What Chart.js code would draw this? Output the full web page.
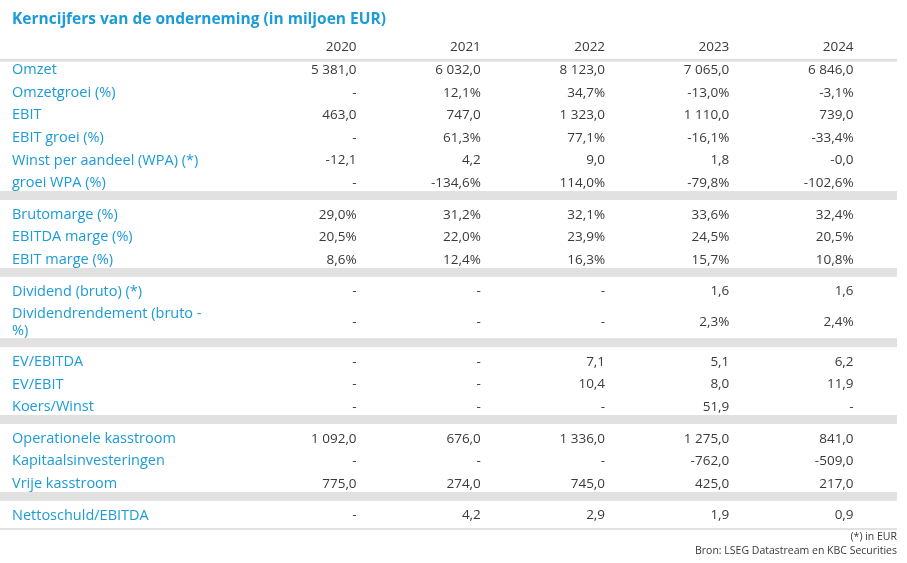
<!DOCTYPE html>
<html>
<head>
<meta charset="utf-8">
<script src="https://cdn.jsdelivr.net/npm/chart.js@4"></script>
<style>
  body { margin: 0; background: #fff; }
  #wrap { width: 907px; height: 563px; }
</style>
</head>
<body>
<div id="wrap"><canvas id="myTable"></canvas></div>
<script>
// table data
var title = 'Kerncijfers van de onderneming (in miljoen EUR)';
var years = ['2020', '2021', '2022', '2023', '2024'];
var labels = [
  ['Omzet', 'Omzetgroei (%)', 'EBIT', 'EBIT groei (%)', 'Winst per aandeel (WPA) (*)', 'groei WPA (%)'],
  ['Brutomarge (%)', 'EBITDA marge (%)', 'EBIT marge (%)'],
  ['Dividend (bruto) (*)', 'Dividendrendement (bruto -\n%)'],
  ['EV/EBITDA', 'EV/EBIT', 'Koers/Winst'],
  ['Operationele kasstroom', 'Kapitaalsinvesteringen', 'Vrije kasstroom'],
  ['Nettoschuld/EBITDA']
];
var values = [
  [
    ['5 381,0', '6 032,0', '8 123,0', '7 065,0', '6 846,0'],
    ['-', '12,1%', '34,7%', '-13,0%', '-3,1%'],
    ['463,0', '747,0', '1 323,0', '1 110,0', '739,0'],
    ['-', '61,3%', '77,1%', '-16,1%', '-33,4%'],
    ['-12,1', '4,2', '9,0', '1,8', '-0,0'],
    ['-', '-134,6%', '114,0%', '-79,8%', '-102,6%']
  ],
  [
    ['29,0%', '31,2%', '32,1%', '33,6%', '32,4%'],
    ['20,5%', '22,0%', '23,9%', '24,5%', '20,5%'],
    ['8,6%', '12,4%', '16,3%', '15,7%', '10,8%']
  ],
  [
    ['-', '-', '-', '1,6', '1,6'],
    ['-', '-', '-', '2,3%', '2,4%']
  ],
  [
    ['-', '-', '7,1', '5,1', '6,2'],
    ['-', '-', '10,4', '8,0', '11,9'],
    ['-', '-', '-', '51,9', '-']
  ],
  [
    ['1 092,0', '676,0', '1 336,0', '1 275,0', '841,0'],
    ['-', '-', '-', '-762,0', '-509,0'],
    ['775,0', '274,0', '745,0', '425,0', '217,0']
  ],
  [
    ['-', '4,2', '2,9', '1,9', '0,9']
  ]
];
var notes = ['(*) in EUR', 'Bron: LSEG Datastream en KBC Securities'];

var BLUE = '#1b9bd7';
var DARK = '#3a3a3a';
var GREY = '#e1e1e1';
var FONT = '"Open Sans", sans-serif';

// row slots: each row 1 slot, two-line rows taller, gap between groups 0.4
var rows = [];
var seps = [];
var slot = 1;
labels.forEach(function (grp, g) {
  grp.forEach(function (lab, i) {
    var tall = lab.indexOf('\n') >= 0;
    if (tall) slot += 0.35;
    rows.push({ label: lab, vals: values[g][i], pos: slot });
    slot += tall ? 1.36 : 1;
  });
  if (g < labels.length - 1) {
    seps.push(slot - 0.47);
    slot += 0.4;
  }
});
var lastPos = slot - 1;

var tablePlugin = {
  id: 'tablePlugin',
  afterDraw: function (chart) {
    var ctx = chart.ctx, xs = chart.scales.x, ys = chart.scales.y;
    ctx.save();
    // title
    ctx.fillStyle = BLUE;
    ctx.font = 'bold 15.5px ' + FONT;
    ctx.textAlign = 'left';
    ctx.textBaseline = 'middle';
    ctx.fillText(title, 12, ys.getPixelForValue(-1.25));
    // header
    ctx.font = '13.5px ' + FONT;
    ctx.fillStyle = DARK;
    ctx.textAlign = 'right';
    years.forEach(function (y, i) {
      ctx.fillText(y, xs.getPixelForValue(i + 1), ys.getPixelForValue(0));
    });
    ctx.fillStyle = GREY;
    ctx.fillRect(0, ys.getPixelForValue(0.5), 897, 3);
    // separators
    seps.forEach(function (s) {
      ctx.fillRect(0, ys.getPixelForValue(s) - 4, 897, 9);
    });
    ctx.fillRect(0, ys.getPixelForValue(lastPos + 0.55), 897, 2);
    // rows
    rows.forEach(function (r) {
      var yp = ys.getPixelForValue(r.pos);
      ctx.font = '14.5px ' + FONT;
      ctx.fillStyle = BLUE;
      ctx.textAlign = 'left';
      var parts = r.label.split('\n');
      if (parts.length > 1) {
        ctx.fillText(parts[0], 12, yp - 8);
        ctx.fillText(parts[1], 12, yp + 9);
      } else {
        ctx.fillText(r.label, 12, yp);
      }
      ctx.font = '13.5px ' + FONT;
      ctx.fillStyle = DARK;
      ctx.textAlign = 'right';
      r.vals.forEach(function (v, i) {
        ctx.fillText(v, xs.getPixelForValue(i + 1), yp);
      });
    });
    // notes
    ctx.font = '10.5px ' + FONT;
    ctx.fillStyle = DARK;
    ctx.fillText(notes[0], 897, ys.getPixelForValue(lastPos + 0.95));
    ctx.fillText(notes[1], 897, ys.getPixelForValue(lastPos + 1.58));
    ctx.restore();
  }
};

new Chart(document.getElementById('myTable'), {
  type: 'scatter',
  data: { datasets: [{ data: [] }] },
  options: {
    responsive: true,
    maintainAspectRatio: false,
    animation: false,
    layout: { padding: 0 },
    plugins: { legend: { display: false }, tooltip: { enabled: false } },
    scales: {
      x: { display: false, min: -1.87, max: 5.43 },
      y: { display: false, reverse: true, min: -2.1, max: 22.81 }
    }
  },
  plugins: [tablePlugin]
});
</script>
</body>
</html>
